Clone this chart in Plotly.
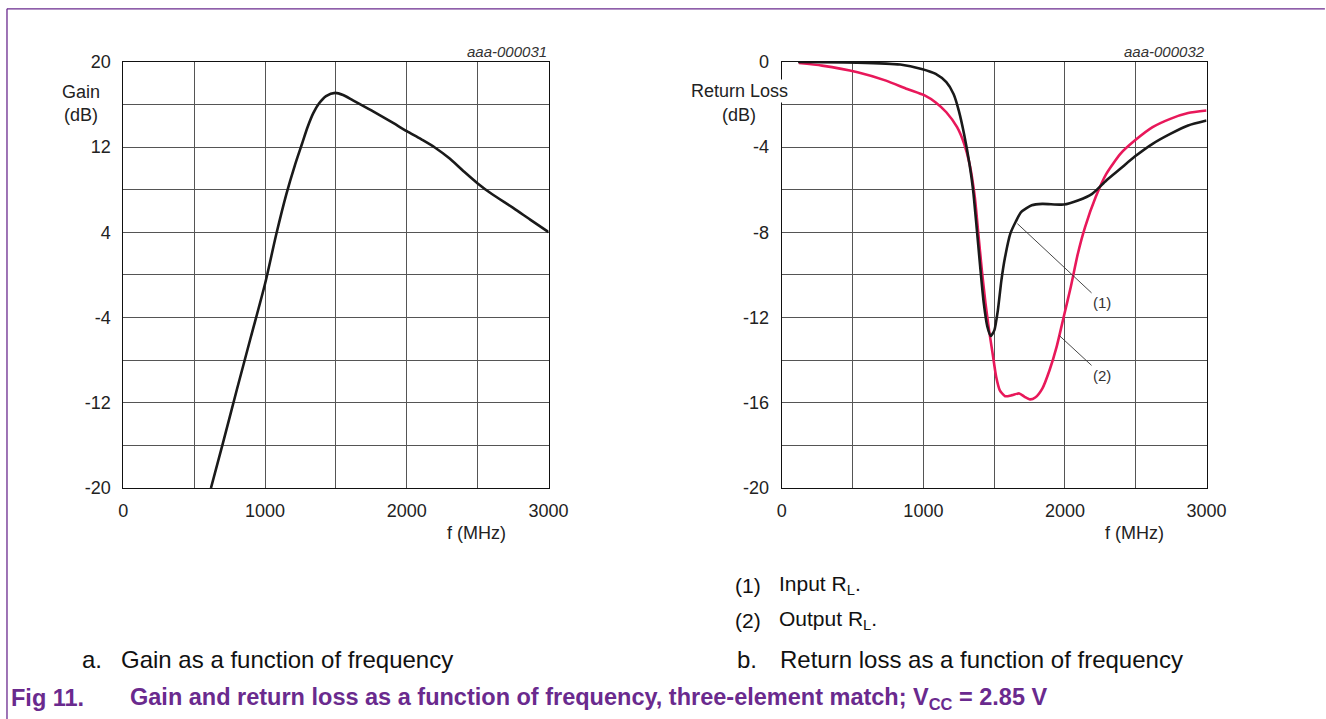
import plotly.graph_objects as go

# ---------------- data ----------------
gain_freq = [618, 700, 800, 900, 1000, 1080, 1150, 1210, 1260, 1300, 1340, 1380, 1430, 1495, 1550, 1620, 1750, 1900, 2000, 2100, 2200, 2300, 2400, 2500, 2600, 2750, 2870, 3000]
gain_db = [-20, -15.9, -10.8, -5.8, -0.8, 3.9, 7.6, 10.3, 12.3, 13.9, 15.2, 16.1, 16.8, 17.1, 16.9, 16.4, 15.45, 14.3, 13.5, 12.75, 11.95, 10.95, 9.75, 8.6, 7.6, 6.3, 5.2, 4.03]

rl_in_freq = [115, 534, 836, 987, 1087, 1162, 1213, 1250, 1288, 1326, 1351, 1376, 1401, 1426, 1451, 1476, 1501, 1526, 1551, 1577, 1614, 1652, 1690, 1765, 1840, 1991, 2091, 2192, 2292, 2393, 2493, 2619, 2744, 2870, 3000]
rl_in_db = [0.0, -0.03, -0.12, -0.33, -0.56, -0.95, -1.5, -2.28, -3.4, -4.8, -6.0, -7.75, -9.6, -11.3, -12.4, -12.86, -12.6, -11.66, -10.25, -9.16, -8.06, -7.5, -7.05, -6.73, -6.66, -6.69, -6.5, -6.19, -5.56, -5.0, -4.44, -3.84, -3.375, -2.98, -2.75]

rl_out_freq = [120, 284, 535, 736, 886, 1012, 1087, 1162, 1238, 1288, 1326, 1363, 1388, 1413, 1439, 1464, 1489, 1514, 1539, 1577, 1627, 1677, 1715, 1753, 1790, 1840, 1891, 1941, 1991, 2041, 2091, 2142, 2217, 2292, 2393, 2493, 2619, 2744, 2870, 3000]
rl_out_db = [-0.05, -0.17, -0.48, -0.875, -1.27, -1.58, -1.9, -2.36, -3.06, -3.84, -4.78, -6.34, -8.06, -9.78, -11.34, -12.6, -13.69, -14.78, -15.4, -15.69, -15.64, -15.56, -15.72, -15.84, -15.75, -15.33, -14.47, -13.375, -11.97, -10.56, -9.0, -7.75, -6.34, -5.25, -4.3, -3.69, -3.06, -2.67, -2.4, -2.28]

# leader labels: anchor on curve -> label position
label_text = ["(1)", "(2)"]
anchor_x = [1664, 1961]
anchor_y = [-7.59, -12.85]
label_x = [2262, 2262]
label_y = [-11.3, -14.7]

x_tick_vals = [0, 1000, 2000, 3000]
gain_tick_vals = [-20, -12, -4, 4, 12, 20]
rl_tick_vals = [-20, -16, -12, -8, -4, 0]

# ---------------- layout helpers ----------------
W, H = 1326, 719
FONT = "Liberation Sans, Arial, Helvetica, sans-serif"
PURPLE = "#6a2a8e"
BLACK = "#1a1a1a"
RED = "#e8185a"
GRID = "#555555"

# screen position -> paper fraction (calibrated to the rendered page)
X0, XW = 3.0, 1308.0
Y0, YH = 9.2, 700.6


def px(x):
    return (x - X0) / XW


def py(y):
    return 1 - (y - Y0) / YH


fig = go.Figure()
fig.add_trace(go.Scatter(x=gain_freq, y=gain_db, mode="lines",
                         line=dict(color=BLACK, width=2.6, shape="spline", smoothing=0.8),
                         xaxis="x", yaxis="y", showlegend=False, hoverinfo="skip"))
fig.add_trace(go.Scatter(x=rl_out_freq, y=rl_out_db, mode="lines",
                         line=dict(color=RED, width=2.6, shape="spline", smoothing=0.6),
                         xaxis="x2", yaxis="y2", showlegend=False, hoverinfo="skip"))
fig.add_trace(go.Scatter(x=rl_in_freq, y=rl_in_db, mode="lines",
                         line=dict(color=BLACK, width=2.6, shape="spline", smoothing=0.6),
                         xaxis="x2", yaxis="y2", showlegend=False, hoverinfo="skip"))

tickfont = dict(family=FONT, size=18, color="#222")
common = dict(showline=True, mirror=True, linecolor="#111", linewidth=1.2,
              showgrid=True, gridcolor=GRID, gridwidth=1, zeroline=False,
              ticks="", tickfont=tickfont, fixedrange=True)

y_top, y_bot = 61.3, 488.3
fig.update_layout(
    width=W, height=H, margin=dict(l=0, r=0, t=0, b=0),
    paper_bgcolor="white", plot_bgcolor="white", showlegend=False,
    xaxis=dict(domain=[px(122), px(549.5)], range=[0, 3000], anchor="y",
               tickvals=x_tick_vals, ticktext=[str(v) for v in x_tick_vals],
               minor=dict(tick0=0, dtick=500, showgrid=True, gridcolor=GRID, gridwidth=1),
               ticklabelstandoff=6, **common),
    yaxis=dict(domain=[py(y_bot), py(y_top)], range=[-20, 20], anchor="x",
               tickvals=gain_tick_vals, ticktext=[str(v) for v in gain_tick_vals],
               minor=dict(tick0=0, dtick=4, showgrid=True, gridcolor=GRID, gridwidth=1),
               ticklabelstandoff=8, **common),
    xaxis2=dict(domain=[px(784), px(1211)], range=[0, 3000], anchor="y2",
                tickvals=x_tick_vals, ticktext=[str(v) for v in x_tick_vals],
                minor=dict(tick0=0, dtick=500, showgrid=True, gridcolor=GRID, gridwidth=1),
                ticklabelstandoff=6, **common),
    yaxis2=dict(domain=[py(y_bot), py(y_top)], range=[-20, 0], anchor="x2",
                tickvals=rl_tick_vals, ticktext=[str(v) for v in rl_tick_vals],
                minor=dict(tick0=0, dtick=2, showgrid=True, gridcolor=GRID, gridwidth=1),
                ticklabelstandoff=8, **common),
)

ann = []


def text(x, y, s, size=18, anchor="center", color="#222", bg=None, family=FONT):
    d = dict(x=px(x), y=py(y), xref="paper", yref="paper", text=s, showarrow=False,
             xanchor=anchor, yanchor="middle",
             font=dict(family=family, size=size, color=color))
    if bg:
        d["bgcolor"] = bg
    ann.append(d)


# axis titles
text(79, 91.5, "Gain")
text(79, 114, "(dB)")
text(741, 90, "Return Loss", bg="white")
text(741, 114, "(dB)")
text(477, 533, "f (MHz)")
text(1139, 533, "f (MHz)")
# figure ids
text(549.5, 50.5, "<i>aaa-000031</i>", size=15, anchor="right", color="#333")
text(1211, 50.5, "<i>aaa-000032</i>", size=15, anchor="right", color="#333")

# leader labels
for t, ax_, ay_, xx, yy in zip(label_text, label_x, label_y, anchor_x, anchor_y):
    ann.append(dict(x=xx, y=yy, xref="x2", yref="y2", ax=ax_, ay=ay_, axref="x2", ayref="y2",
                    text=t, showarrow=True, arrowhead=0, arrowwidth=0.9, arrowcolor="#333",
                    standoff=0, startstandoff=0,
                    font=dict(family=FONT, size=15, color="#333")))

# notes and captions
text(735, 586, "(1)", size=21, anchor="left", color="#111")
text(779, 586, "Input R<sub>L</sub>.", size=21, anchor="left", color="#111")
text(735, 621, "(2)", size=21, anchor="left", color="#111")
text(779, 621, "Output R<sub>L</sub>.", size=21, anchor="left", color="#111")
text(78, 660, "a.", size=24, anchor="left", color="#111")
text(118, 660, "Gain as a function of frequency", size=24, anchor="left", color="#111")
text(737, 660, "b.", size=24, anchor="left", color="#111")
text(780, 660, "Return loss as a function of frequency", size=24, anchor="left", color="#111")
text(7, 699, "<b>Fig 11.</b>", size=23.5, anchor="left", color=PURPLE)
text(127, 699, "<b>Gain and return loss as a function of frequency, three-element match; V<sub>CC</sub> = 2.85 V</b>",
     size=23.5, anchor="left", color=PURPLE)

fig.update_layout(annotations=ann)

# purple frame lines (top and left)
fig.add_shape(type="line", xref="paper", yref="paper", x0=px(5), x1=px(1330), y0=py(8), y1=py(8),
              line=dict(color=PURPLE, width=1.3))
fig.add_shape(type="line", xref="paper", yref="paper", x0=px(5), x1=px(5), y0=py(8), y1=py(725),
              line=dict(color=PURPLE, width=1.3))

fig.write_html("out.html", config={"displayModeBar": False})
